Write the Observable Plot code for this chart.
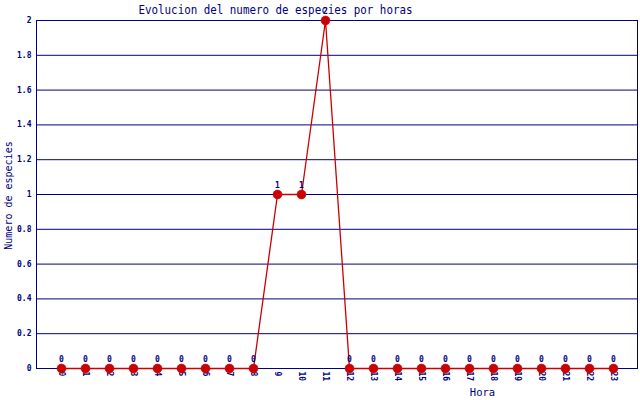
<!DOCTYPE html>
<html>
<head>
<meta charset="utf-8">
<script src="https://cdn.jsdelivr.net/npm/d3@7"></script>
<script src="https://cdn.jsdelivr.net/npm/@observablehq/plot@0.6"></script>
<style>
html,body{margin:0;padding:0;background:#fff;}
svg{display:block;}
</style>
</head>
<body>
<div id="chart"></div>
<script>
const hours = [0,1,2,3,4,5,6,7,8,9,10,11,12,13,14,15,16,17,18,19,20,21,22,23];
const species = [0,0,0,0,0,0,0,0,0,1,1,2,0,0,0,0,0,0,0,0,0,0,0,0];
const yTicks = [0,0.2,0.4,0.6,0.8,1,1.2,1.4,1.6,1.8,2];
const title = "Evolucion del numero de especies por horas";
const xLabel = "Hora";
const yLabel = "Numero de especies";

const data = hours.map((h, i) => ({hora: h, n: species[i]}));
const navy = "#000080";
const red = "#cc0000";
const font = "'DejaVu Sans Mono', 'Liberation Mono', monospace";

const chart = Plot.plot({
  width: 640,
  height: 400,
  marginLeft: 36,
  marginRight: 2,
  marginTop: 20,
  marginBottom: 32,
  style: {fontFamily: font, color: navy, background: "#fff"},
  x: {type: "point", domain: hours, padding: 1, label: null},
  y: {domain: [0, 2], label: null},
  marks: [
    Plot.gridY(yTicks, {stroke: navy, strokeOpacity: 1, strokeWidth: 1}),
    Plot.axisY(yTicks, {tickSize: 0, tickPadding: 5, fontSize: 8, fontWeight: "bold", fill: navy, tickFormat: d => String(d), label: null}),
    Plot.axisX(hours, {tickSize: 0, tickPadding: 3, tickRotate: 90, fontSize: 8, fontWeight: "bold", fill: navy, label: null}),
    Plot.line(data, {x: "hora", y: "n", stroke: red, strokeWidth: 1.3}),
    Plot.dot(data, {x: "hora", y: "n", fill: red, r: 4.5, stroke: red, strokeWidth: 0.5}),
    Plot.text(data, {x: "hora", y: "n", text: d => String(d.n), dy: -9, fontSize: 8, fontWeight: "bold", fill: navy}),
    Plot.text([title], {frameAnchor: "top-left", lineAnchor: "middle", dx: 239, dy: -11, text: d => d, fontSize: 13, fill: navy, textAnchor: "middle", className: "ttl"}),
    Plot.text([xLabel], {frameAnchor: "bottom-left", dx: 446, dy: 27, text: d => d, fontSize: 10.5, fill: navy, textAnchor: "middle"}),
    Plot.text([yLabel], {frameAnchor: "left", dx: -28, dy: 1, text: d => d, fontSize: 10, fill: navy, rotate: -90, textAnchor: "middle"})
  ]
});

// left axis line and right border
const svg = d3.select(chart);
const yr = chart.scale("y").range;
const left = 36, right = 638;
svg.insert("g", "g")
  .attr("stroke", navy)
  .attr("shape-rendering", "crispEdges")
  .selectAll("line")
  .data([left + 0.5, right - 0.5])
  .join("line")
  .attr("x1", d => d).attr("x2", d => d)
  .attr("y1", Math.min(...yr)).attr("y2", Math.max(...yr));

// condense title glyphs like the reference bitmap font
svg.selectAll(".ttl text").attr("textLength", 274).attr("lengthAdjust", "spacingAndGlyphs");

document.getElementById("chart").appendChild(chart);
</script>
</body>
</html>
